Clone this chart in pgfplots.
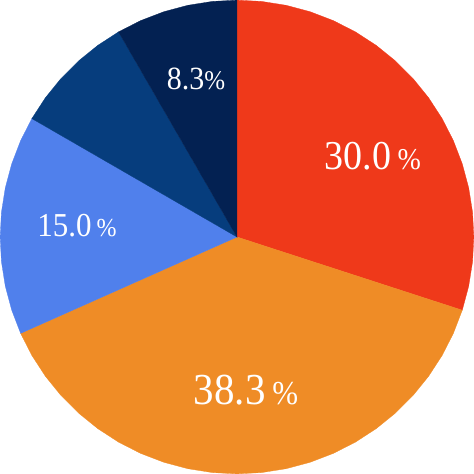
\documentclass[border=0pt]{standalone}
\usepackage{pgfplots}
\pgfplotsset{compat=1.18}
\usepgfplotslibrary{polar}
\usepackage{fontspec}
\setmainfont{Liberation Serif}

\definecolor{sRed}{RGB}{239,57,26}
\definecolor{sOrange}{RGB}{239,140,38}
\definecolor{sLight}{RGB}{80,128,236}
\definecolor{sBlue}{RGB}{6,61,125}
\definecolor{sNavy}{RGB}{3,33,82}

\begin{document}
\begin{tikzpicture}
% shares: 30.0, 38.3, 15.0, 8.3, 8.3 (%), clockwise from 12 o'clock
% slice edges: 90, -18, -156 (=204), 150, 120, 90 degrees
\begin{polaraxis}[
    hide axis,
    scale only axis,
    width=474pt,
    height=474pt,
    ymin=0, ymax=1,
    clip=false,
]
\addplot[fill=sRed, draw=sRed, line width=0.3pt] coordinates {
    (0,0) (90,1) (84,1) (78,1) (72,1) (66,1) (60,1) (54,1) (48,1) (42,1) (36,1)
    (30,1) (24,1) (18,1) (12,1) (6,1) (0,1) (-6,1) (-12,1) (-18,1)} -- cycle;
\addplot[fill=sOrange, draw=sOrange, line width=0.3pt] coordinates {
    (0,0) (-18,1) (-24,1) (-30,1) (-36,1) (-42,1) (-48,1) (-54,1) (-60,1) (-66,1)
    (-72,1) (-78,1) (-84,1) (-90,1) (-96,1) (-102,1) (-108,1) (-114,1) (-120,1)
    (-126,1) (-132,1) (-138,1) (-144,1) (-150,1) (-156,1)} -- cycle;
\addplot[fill=sLight, draw=sLight, line width=0.3pt] coordinates {
    (0,0) (204,1) (198,1) (192,1) (186,1) (180,1) (174,1) (168,1) (162,1) (156,1) (150,1)} -- cycle;
\addplot[fill=sBlue, draw=sBlue, line width=0.3pt] coordinates {
    (0,0) (150,1) (144,1) (138,1) (132,1) (126,1) (120,1)} -- cycle;
\addplot[fill=sNavy, draw=sNavy, line width=0.3pt] coordinates {
    (0,0) (120,1) (114,1) (108,1) (102,1) (96,1) (90,1)} -- cycle;

\node[text=white, inner sep=0pt] at (axis cs:30.8,0.668)
    {\scalebox{1}[1.08]{\fontsize{38}{38}\selectfont 30.0\,{\fontsize{28}{28}\selectfont\%}}};
\node[text=white, inner sep=0pt] at (axis cs:-86.6,0.647)
    {\scalebox{1}[1.08]{\fontsize{41}{41}\selectfont 38.3\,{\fontsize{31}{31}\selectfont\%}}};
\node[text=white, inner sep=0pt] at (axis cs:176,0.677)
    {\scalebox{1}[1.08]{\fontsize{31}{31}\selectfont 15.0\,{\fontsize{24}{24}\selectfont\%}}};
\node[text=white, inner sep=0pt] at (axis cs:104.5,0.69)
    {\scalebox{1}[1.08]{\fontsize{30}{30}\selectfont 8.3{\fontsize{25}{25}\selectfont\%}}};
\end{polaraxis}
\end{tikzpicture}
\end{document}
